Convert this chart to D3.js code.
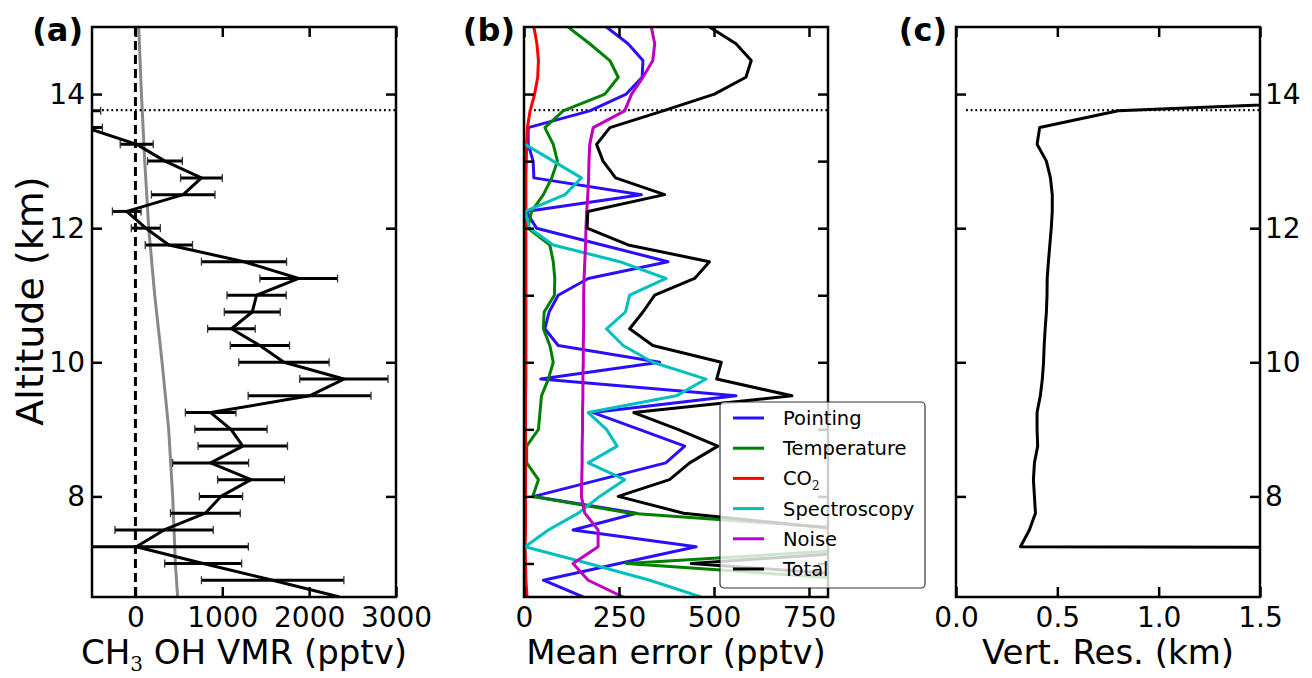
<!DOCTYPE html>
<html>
<head>
<meta charset="utf-8">
<script src="https://cdn.jsdelivr.net/npm/d3@7"></script>
<style>
  body { margin: 0; background: #fff; }
  svg { display: block; font-family: "DejaVu Sans", sans-serif; }
</style>
</head>
<body>
<script>
// ---- data ----
var tropopause = 13.76

// (a) retrieved CH3OH profile with error bars
var altsA = [13.75, 13.5, 13.25, 13, 12.75, 12.5, 12.25, 12, 11.75, 11.5, 11.25, 11, 10.75, 10.5, 10.25, 10,
             9.75, 9.5, 9.25, 9, 8.75, 8.5, 8.25, 8, 7.75, 7.5, 7.25, 7, 6.75, 6.5]
var vmr = [-700, -570, 15, 340, 760, 550, -100, 120, 385, 1250, 1880, 1395, 1345, 1105, 1433, 1710,
           2400, 2005, 866, 1100, 1236, 866, 1331, 985, 805, 330, 10, 780, 1580, 2350]
var vmrErr = [300, 190, 190, 200, 240, 366, 165, 167, 272, 490, 447, 341, 322, 274, 341, 520,
              508, 707, 291, 416, 515, 437, 385, 249, 402, 566, 1290, 443, 820, 0]

// (a) a priori profile (grey)
var aprioriAlt = [15, 14, 13, 12, 11, 10, 9, 8, 7, 6.5]
var apriori = [38, 69, 107, 153, 222, 307, 383, 429, 460, 486]

// (b) mean error components
var altsB = [15, 14.75, 14.5, 14.25, 14, 13.75, 13.5, 13.25, 13, 12.75, 12.5, 12.25, 12, 11.75, 11.5, 11.25, 11, 10.75,
             10.5, 10.25, 10, 9.75, 9.5, 9.25, 9, 8.75, 8.5, 8.25, 8, 7.75, 7.5, 7.25, 7, 6.75, 6.5]
var pointing = [217, 274, 313, 311, 269, 173, 11, 11, 24, 26, 309, 5, 33, 206, 379, 169, 90, 66,
                55, 90, 357, 44, 558, 182, 303, 423, 373, 200, 26, 296, 129, 453, 250, 51, 156]
var temperature = [116, 173, 226, 248, 213, 103, 55, 77, 88, 73, 51, 20, 10, 68, 77, 81, 80, 53,
                   51, 68, 77, 64, 46, 42, 38, 7, 7, 38, 23, 280, 900, 1000, 269, 900, 1500]
var co2 = [26, 34, 38, 36, 28, 16, 9, 7, 6, 5, 5, 5, 5, 5, 5, 5, 5, 5,
           5, 5, 5, 5, 4, 4, 4, 4, 4, 4, 4, 4, 4, 3, 4, 5, 8]
var spectroscopy = [null, null, null, null, null, null, null, 3, 77, 151, 108, 3, 15, 77, 252, 374, 278, 267,
                    217, 261, 339, 479, 401, 169, 217, 245, 169, 265, 199, 143, 64, 3, 170, 331, 466]
var noise = [335, 344, 339, 313, 283, 265, 182, 173, 171, 170, 168, 165, 163, 162, 160, 158, 157, 157,
             157, 156, 156, 155, 155, 154, 154, 153, 153, 152, 151, 160, 195, 195, 129, 169, 261]
var total = [488, 558, 598, 584, 501, 366, 226, 191, 208, 241, 370, 168, 166, 274, 488, 449, 344, 313,
             278, 339, 519, 507, 705, 289, 405, 510, 436, 383, 248, 420, 850, 1100, 440, 1050, 1600]

var seriesNames = ['Pointing', 'Temperature', 'CO2', 'Spectroscopy', 'Noise', 'Total']
var seriesColors = ['#2a0fff', '#008000', '#ff0000', '#00bfbf', '#bf00bf', '#000000']
var seriesValues = [pointing, temperature, co2, spectroscopy, noise, total]

// (c) vertical resolution
var altsC = [14, 13.75, 13.5, 13.25, 13, 12.75, 12.5, 12.25, 12, 11.75, 11.5, 11.25, 11, 10.75,
             10.5, 10.25, 10, 9.75, 9.5, 9.25, 9, 8.75, 8.5, 8.25, 8, 7.75, 7.5, 7.25, 7]
var vertRes = [2.8, 0.8, 0.413, 0.4, 0.446, 0.466, 0.475, 0.475, 0.47, 0.463, 0.456, 0.45, 0.449, 0.446,
               0.44, 0.435, 0.432, 0.426, 0.416, 0.4, 0.4, 0.403, 0.387, 0.382, 0.387, 0.392, 0.362, 0.318, 30]

// ---- layout ----
var width = 1312, height = 678
var panelW = 304, plotTop = 27, plotBottom = 597
var panelX = [92, 524, 956]

var svg = d3.select('body').append('svg')
    .attr('width', width)
    .attr('height', height)

var y = d3.scaleLinear().domain([6.5, 15]).range([plotBottom, plotTop])

var xA = d3.scaleLinear().domain([-500, 3000]).range([0, panelW])
var xB = d3.scaleLinear().domain([0, 800]).range([0, panelW])
var xC = d3.scaleLinear().domain([0, 1.5]).range([0, panelW])

function makePanel(i) {
    var g = svg.append('g').attr('transform', `translate(${panelX[i]},0)`)
    g.append('clipPath').attr('id', 'clip' + i)
        .append('rect').attr('x', 0).attr('y', plotTop).attr('width', panelW).attr('height', plotBottom - plotTop)
    var inner = g.append('g').attr('clip-path', `url(#clip${i})`)
    return { g: g, inner: inner }
}

function tropoLine(inner) {
    inner.append('line')
        .attr('x1', 10).attr('x2', panelW)
        .attr('y1', y(tropopause)).attr('y2', y(tropopause))
        .attr('stroke', '#000').attr('stroke-width', 2.2)
        .attr('stroke-dasharray', '1.8,2.9')
}

function drawAxes(g, x, xTicks, xFmt, yTicks, leftLabels, rightLabels) {
    g.append('rect')
        .attr('x', 0).attr('y', plotTop).attr('width', panelW).attr('height', plotBottom - plotTop)
        .attr('fill', 'none').attr('stroke', '#000').attr('stroke-width', 2.5)

    var axes = []
    axes.push(g.append('g').attr('transform', `translate(0,${plotBottom})`)
        .call(d3.axisBottom(x).tickValues(xTicks).tickFormat(xFmt).tickSize(-10).tickPadding(10)))
    axes.push(g.append('g').attr('transform', `translate(0,${plotTop})`)
        .call(d3.axisTop(x).tickValues(xTicks).tickFormat('').tickSize(-10)))
    axes.push(g.append('g')
        .call(d3.axisLeft(y).tickValues(yTicks).tickFormat(leftLabels ? d3.format('d') : '').tickSize(-10).tickPadding(7)))
    axes.push(g.append('g').attr('transform', `translate(${panelW},0)`)
        .call(d3.axisRight(y).tickValues(yTicks).tickFormat(rightLabels ? d3.format('d') : '').tickSize(-10).tickPadding(5)))

    axes.forEach(a => {
        a.attr('font-family', null).attr('font-size', 28)
        a.select('.domain').remove()
        a.selectAll('.tick line').attr('stroke-width', 2.5)
    })
}

var line = d3.line().defined(d => d[0] != null)

// ---- (a) ----
var pa = makePanel(0)

pa.inner.append('line')
    .attr('x1', xA(0)).attr('x2', xA(0)).attr('y1', plotTop).attr('y2', plotBottom)
    .attr('stroke', '#000').attr('stroke-width', 3).attr('stroke-dasharray', '9,5')

pa.inner.append('path')
    .attr('d', line.x(d => xA(d[0])).y(d => y(d[1]))(apriori.map((v, i) => [v, aprioriAlt[i]])))
    .attr('fill', 'none').attr('stroke', '#888').attr('stroke-width', 3)

tropoLine(pa.inner)

var bars = pa.inner.selectAll('g.err')
    .data(altsA.map((a, i) => ({ alt: a, v: vmr[i], e: vmrErr[i] })).filter(d => d.e > 0))
    .enter().append('g').attr('class', 'err')

bars.append('line')
    .attr('x1', d => xA(d.v - d.e)).attr('x2', d => xA(d.v + d.e))
    .attr('y1', d => y(d.alt)).attr('y2', d => y(d.alt))
    .attr('stroke', '#000').attr('stroke-width', 3)

bars.selectAll('line.cap')
    .data(d => [[d.v - d.e, d.alt], [d.v + d.e, d.alt]])
    .enter().append('line').attr('class', 'cap')
    .attr('x1', d => xA(d[0])).attr('x2', d => xA(d[0]))
    .attr('y1', d => y(d[1]) - 4).attr('y2', d => y(d[1]) + 4)
    .attr('stroke', '#333').attr('stroke-width', 1.3)

pa.inner.append('path')
    .attr('d', line.x(d => xA(d[0])).y(d => y(d[1]))(vmr.map((v, i) => [v, altsA[i]])))
    .attr('fill', 'none').attr('stroke', '#000').attr('stroke-width', 3).attr('stroke-linejoin', 'round')

drawAxes(pa.g, xA, [0, 1000, 2000, 3000], d3.format('d'), [8, 10, 12, 14], true, false)

// ---- (b) ----
var pb = makePanel(1)
tropoLine(pb.inner)

seriesValues.forEach((vals, k) => {
    pb.inner.append('path')
        .attr('d', line.x(d => xB(d[0])).y(d => y(d[1]))(vals.map((v, i) => [v, altsB[i]])))
        .attr('fill', 'none')
        .attr('stroke', seriesColors[k])
        .attr('stroke-width', 3)
        .attr('stroke-linejoin', 'round')
})

drawAxes(pb.g, xB, [0, 250, 500, 750], d3.format('d'), [7, 8, 9, 10, 11, 12, 13, 14], false, false)

// legend sits on top of the lines and the right spine
var legend = pb.g.append('g').attr('transform', `translate(${720 - panelX[1]},402)`)
legend.append('rect')
    .attr('width', 205).attr('height', 186).attr('rx', 4)
    .attr('fill', '#fff').attr('fill-opacity', 0.8)
    .attr('stroke', '#000').attr('stroke-opacity', 0.8).attr('stroke-width', 1.2)

var rows = legend.selectAll('g.row').data(seriesNames).enter().append('g')
    .attr('class', 'row')
    .attr('transform', (d, i) => `translate(0,${16 + i * 30.2})`)

rows.append('line')
    .attr('x1', 13).attr('x2', 44)
    .attr('stroke', (d, i) => seriesColors[i]).attr('stroke-width', 3)

rows.append('text')
    .attr('x', 63).attr('dy', '0.36em')
    .attr('font-size', 19.5)
    .each(function(d) {
        var t = d3.select(this)
        if (d === 'CO2') {
            t.append('tspan').text('CO')
            t.append('tspan').text('2').attr('font-family', 'DejaVu Serif').attr('font-size', 12).attr('dy', 5)
        } else {
            t.text(d)
        }
    })

// ---- (c) ----
var pc = makePanel(2)
tropoLine(pc.inner)

pc.inner.append('path')
    .attr('d', line.x(d => xC(d[0])).y(d => y(d[1]))(vertRes.map((v, i) => [v, altsC[i]])))
    .attr('fill', 'none').attr('stroke', '#000').attr('stroke-width', 3).attr('stroke-linejoin', 'round')

drawAxes(pc.g, xC, [0, 0.5, 1, 1.5], d3.format('.1f'), [8, 10, 12, 14], false, true)

// ---- labels ----
var labels = ['(a)', '(b)', '(c)']
labels.forEach((l, i) => {
    svg.append('text')
        .attr('x', panelX[i] - 9).attr('y', 41)
        .attr('text-anchor', 'end')
        .attr('font-size', 32).attr('font-weight', 'bold')
        .text(l)
})

var xl = svg.append('text')
    .attr('x', panelX[0] + panelW / 2).attr('y', 664)
    .attr('text-anchor', 'middle').attr('font-size', 34)
xl.append('tspan').text('CH')
xl.append('tspan').text('3').attr('font-family', 'DejaVu Serif').attr('font-size', 20).attr('dy', 7)
xl.append('tspan').text('\u00a0OH VMR (pptv)').attr('dy', -7)

svg.append('text')
    .attr('x', panelX[1] + panelW / 2).attr('y', 664)
    .attr('text-anchor', 'middle').attr('font-size', 34)
    .text('Mean error (pptv)')

svg.append('text')
    .attr('x', panelX[2] + panelW / 2).attr('y', 664)
    .attr('text-anchor', 'middle').attr('font-size', 34)
    .text('Vert. Res. (km)')

svg.append('text')
    .attr('transform', 'translate(43,301) rotate(-90)')
    .attr('text-anchor', 'middle').attr('font-size', 38)
    .text('Altitude (km)')
</script>
</body>
</html>
